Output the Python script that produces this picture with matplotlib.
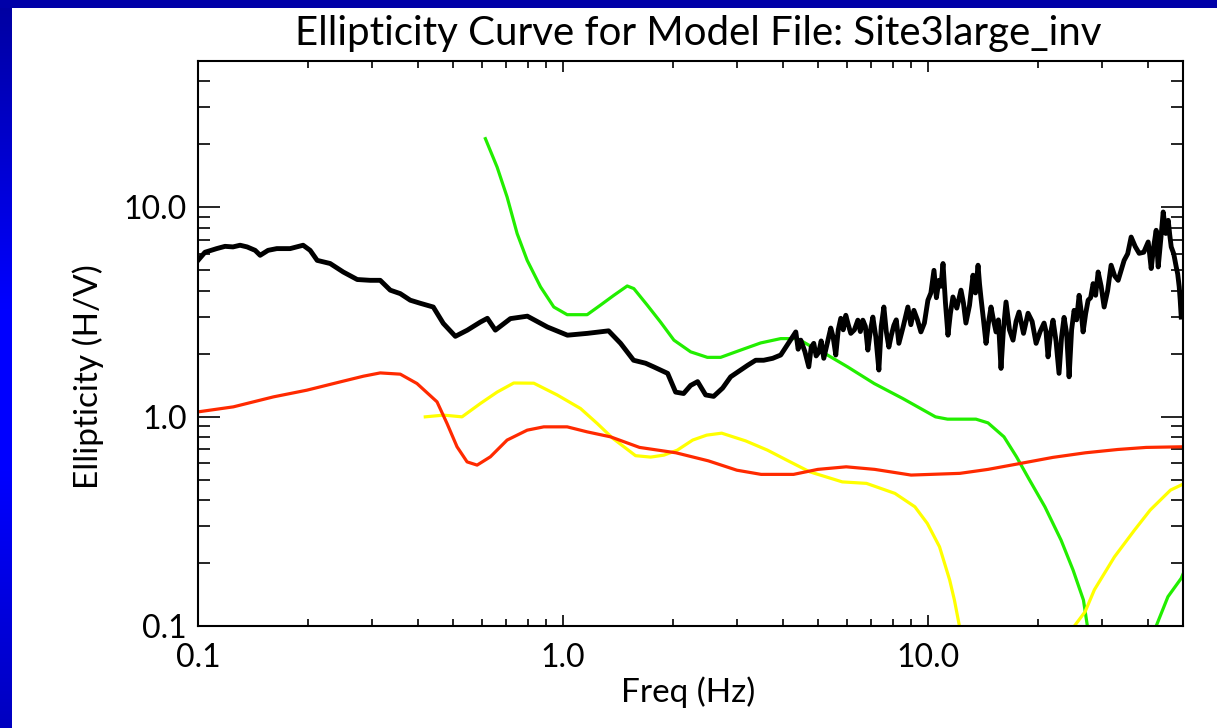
import numpy as np
import matplotlib
matplotlib.use("Agg")
import matplotlib.pyplot as plt
from matplotlib.ticker import FixedLocator, FixedFormatter, LogLocator, NullFormatter
from matplotlib.colors import LinearSegmentedColormap

# ---------------- data ----------------
title_text = "Ellipticity Curve for Model File: Site3large_inv"
x_label = "Freq (Hz)"
y_label = "Ellipticity (H/V)"
major_ticks = [0.1, 1.0, 10.0]
major_tick_labels = ["0.1", "1.0", "10.0"]

# observed H/V (black)
obs_freq = [0.100, 0.1045, 0.1125, 0.1186, 0.1247, 0.1304, 0.1363, 0.1434, 0.1480, 0.1556,
            0.1644, 0.1788, 0.1941, 0.2029, 0.2121, 0.2302, 0.2500, 0.2731, 0.2964, 0.3157,
            0.3364, 0.3583, 0.3816, 0.4065, 0.4412, 0.4700, 0.5072, 0.5471, 0.5938, 0.6207,
            0.6528, 0.7178, 0.7990, 0.9069, 1.0288, 1.1672, 1.3335, 1.4385, 1.5613, 1.6843,
            1.7716, 1.9357, 2.0357, 2.1411, 2.2377, 2.3388, 2.4599, 2.5873, 2.7387, 2.8806,
            3.0690, 3.2077, 3.3738, 3.5484, 3.7564, 3.9510,
            4.345, 4.41, 4.484, 4.60, 4.716, 4.79, 4.867, 4.94, 5.023, 5.10,
            5.184, 5.30, 5.418, 5.50, 5.592, 5.68, 5.771, 5.86, 5.957, 6.05,
            6.148, 6.29, 6.427, 6.53, 6.633, 6.74, 6.846, 6.95, 7.066, 7.20,
            7.339, 7.45, 7.574, 7.69, 7.816, 7.94, 8.067, 8.19, 8.326, 8.56,
            8.812, 8.98, 9.153, 9.36, 9.568, 9.78, 10.00, 10.19, 10.39, 10.55,
            10.72, 10.86, 11.00, 11.17, 11.35, 11.52, 11.71, 12.00, 12.32, 12.51,
            12.71, 13.00, 13.29, 13.50, 13.72, 13.85, 13.98, 14.20, 14.43, 14.65,
            14.89, 15.12, 15.37, 15.60, 15.86, 16.10, 16.37, 16.73, 17.11, 17.44,
            17.77, 18.28, 18.81, 19.30, 19.79, 20.30, 20.81, 21.07, 21.34, 21.68,
            22.02, 22.44, 22.87, 23.24, 23.61, 23.99, 24.37, 24.76, 25.15, 25.55,
            25.96, 26.29, 26.62, 27.05, 27.48, 27.92, 28.36, 28.81, 29.27, 29.83,
            30.40, 31.08, 31.77, 32.49, 33.21, 33.85, 34.49, 35.27, 36.05, 36.98,
            37.92, 39.03, 40.14, 40.50, 40.91, 41.56, 42.22, 42.49, 42.76, 43.45,
            44.13, 44.84, 45.55, 45.98, 46.42, 47.16, 47.91, 48.36, 48.82, 49.13, 49.44]
obs_ell = [5.58, 6.10, 6.35, 6.51, 6.47, 6.59, 6.47, 6.23, 5.90, 6.23,
           6.35, 6.35, 6.59, 6.23, 5.58, 5.39, 4.91, 4.52, 4.48, 4.48,
           4.02, 3.87, 3.60, 3.48, 3.34, 2.79, 2.42, 2.59, 2.83, 2.95,
           2.59, 2.94, 3.02, 2.68, 2.45, 2.50, 2.57, 2.24, 1.86, 1.80,
           1.73, 1.61, 1.31, 1.29, 1.41, 1.47, 1.27, 1.25, 1.37, 1.55,
           1.67, 1.76, 1.86, 1.86, 1.90, 1.97,
           2.54, 2.10, 2.32, 2.05, 1.73, 2.15, 2.24, 1.95, 2.03, 2.30,
           1.90, 2.25, 2.65, 2.40, 1.97, 2.60, 2.95, 2.60, 3.05, 2.75,
           2.50, 2.60, 2.89, 2.55, 2.89, 2.70, 2.08, 2.55, 2.99, 2.40,
           1.67, 2.70, 3.34, 2.55, 2.15, 2.45, 2.73, 2.90, 2.24, 2.70,
           3.34, 2.75, 3.22, 2.90, 2.54, 2.80, 3.60, 3.90, 5.00, 3.70,
           4.48, 4.20, 5.39, 3.50, 2.45, 3.10, 3.73, 3.30, 4.02, 3.50,
           2.80, 3.40, 4.74, 3.90, 5.29, 4.30, 3.68, 2.90, 2.24, 2.80,
           3.34, 2.90, 2.54, 2.90, 1.70, 2.60, 3.53, 2.60, 2.32, 2.85,
           3.16, 2.50, 3.12, 2.85, 2.24, 2.55, 2.80, 2.55, 1.93, 2.50,
           2.89, 2.30, 1.61, 2.40, 2.98, 2.50, 1.55, 2.60, 3.22, 2.90,
           3.80, 3.20, 2.54, 3.10, 3.60, 3.70, 4.32, 3.80, 4.91, 4.20,
           3.34, 4.00, 5.29, 4.70, 4.48, 5.00, 5.58, 6.00, 7.21, 6.50,
           6.03, 6.10, 6.83, 6.00, 5.10, 6.50, 7.77, 6.20, 5.19, 7.00,
           9.50, 7.50, 8.67, 7.40, 6.47, 6.00, 5.19, 4.80, 4.17, 3.60, 2.99]

# model curve (green), two branches
green_freq_a = [0.613, 0.660, 0.703, 0.749, 0.798, 0.868, 0.944, 1.027, 1.165, 1.267,
                1.379, 1.500, 1.564, 1.702, 1.851, 2.014, 2.238, 2.487, 2.704, 3.069,
                3.482, 3.951, 4.390, 4.775, 5.306, 6.022, 7.124, 8.540, 10.49, 11.32,
                13.54, 14.61, 16.16, 17.49, 18.88, 20.92, 23.17, 24.99, 26.68, 27.35, 27.65]
green_ell_a = [21.28, 15.57, 11.20, 7.49, 5.58, 4.17, 3.34, 3.07, 3.07, 3.41,
               3.80, 4.21, 4.09, 3.41, 2.83, 2.32, 2.04, 1.92, 1.92, 2.08,
               2.25, 2.36, 2.36, 2.17, 1.97, 1.73, 1.44, 1.22, 0.998, 0.973,
               0.973, 0.934, 0.801, 0.643, 0.507, 0.371, 0.257, 0.185, 0.133, 0.100, 0.085]
green_freq_b = [41.17, 42.22, 45.47, 49.44, 50.0]
green_ell_b = [0.085, 0.100, 0.138, 0.169, 0.177]

# model curve (yellow), two branches
yellow_freq_a = [0.4195, 0.471, 0.529, 0.594, 0.660, 0.733, 0.832, 0.964, 1.117, 1.241,
                 1.367, 1.581, 1.739, 1.891, 2.058, 2.267, 2.476, 2.722, 3.167, 3.633,
                 4.104, 4.746, 5.826, 6.788, 8.121, 9.212, 9.963, 10.76, 11.47, 11.82,
                 12.20, 12.32]
yellow_ell_a = [0.998, 1.017, 0.998, 1.156, 1.31, 1.448, 1.445, 1.27, 1.094, 0.928,
                0.790, 0.651, 0.641, 0.655, 0.692, 0.773, 0.816, 0.834, 0.766, 0.692,
                0.620, 0.545, 0.488, 0.480, 0.430, 0.371, 0.309, 0.239, 0.166, 0.133,
                0.100, 0.085]
yellow_freq_b = [24.91, 25.20, 26.96, 28.59, 32.45, 36.81, 40.65, 46.22, 50.0]
yellow_ell_b = [0.085, 0.100, 0.117, 0.149, 0.214, 0.287, 0.358, 0.446, 0.476]

# model curve (red)
red_freq = [0.100, 0.1250, 0.1609, 0.1987, 0.2453, 0.2841, 0.3157, 0.3583, 0.3981, 0.4518,
            0.4812, 0.5126, 0.5462, 0.5818, 0.6326, 0.703, 0.798, 0.886, 1.027, 1.165,
            1.350, 1.621, 2.040, 2.503, 2.995, 3.491, 4.284, 4.995, 5.971, 7.146,
            8.994, 12.23, 14.62, 17.94, 22.01, 27.01, 33.15, 39.63, 49.91]
red_ell = [1.054, 1.114, 1.243, 1.338, 1.466, 1.561, 1.618, 1.596, 1.44, 1.177,
           0.928, 0.718, 0.608, 0.587, 0.643, 0.773, 0.862, 0.894, 0.894, 0.846,
           0.801, 0.713, 0.672, 0.615, 0.555, 0.530, 0.530, 0.560, 0.576, 0.560,
           0.526, 0.536, 0.560, 0.598, 0.639, 0.672, 0.697, 0.713, 0.718]

# ---------------- figure ----------------
W, H = 1217, 728
plt.rcParams["font.family"] = ["Lato", "DejaVu Sans"]
plt.rcParams["font.weight"] = "normal"
plt.rcParams["text.color"] = "black"
plt.rcParams["xtick.color"] = "black"
plt.rcParams["ytick.color"] = "black"
fig = plt.figure(figsize=(W / 100, H / 100), dpi=100)
fig.patch.set_facecolor("white")

# blue frame (left gradient strip and top strip)
cmap = LinearSegmentedColormap.from_list(
    "edge", [(0.0, "#0000a0"), (0.42, "#0000ff"), (0.65, "#0000ff"), (1.0, "#0000c0")])
ax_left = fig.add_axes([0, 0, 12 / W, 1])
ax_left.imshow(np.linspace(0, 1, 256).reshape(-1, 1), cmap=cmap, aspect="auto")
ax_left.set_axis_off()
ax_top = fig.add_axes([0, 1 - 8 / H, 1, 8 / H])
ax_top.set_facecolor("#0000a8")
ax_top.set_xticks([])
ax_top.set_yticks([])
for s in ax_top.spines.values():
    s.set_visible(False)

ax = fig.add_axes([198 / W, 1 - 626 / H, 985 / W, 565 / H])
ax.set_xscale("log")
ax.set_yscale("log")

ax.plot(green_freq_a, green_ell_a, color="#22ee00", lw=2.3)
ax.plot(green_freq_b, green_ell_b, color="#22ee00", lw=2.3)
ax.plot(yellow_freq_a, yellow_ell_a, color="#ffff00", lw=2.3)
ax.plot(yellow_freq_b, yellow_ell_b, color="#ffff00", lw=2.3)
ax.plot(red_freq, red_ell, color="#ff2a00", lw=2.3)
ax.plot(obs_freq, obs_ell, color="black", lw=3.5)

ax.set_xlim(0.1, 50)
ax.set_ylim(0.1, 50)

for axis in (ax.xaxis, ax.yaxis):
    axis.set_major_locator(FixedLocator(major_ticks))
    axis.set_major_formatter(FixedFormatter(major_tick_labels))
    axis.set_minor_locator(LogLocator(base=10, subs=np.arange(2, 10), numticks=20))
    axis.set_minor_formatter(NullFormatter())

ax.tick_params(axis="y", which="major", direction="in", left=True, right=True,
               length=16, width=1.2, labelsize=23, pad=8)
ax.tick_params(axis="y", which="minor", direction="in", left=True, right=True,
               length=8.6, width=1.2)
ax.tick_params(axis="x", which="major", direction="in", bottom=True, top=True,
               length=8, width=1.2, labelsize=23, pad=12)
ax.tick_params(axis="x", which="minor", direction="in", bottom=True, top=True,
               length=5, width=1.2)
for s in ax.spines.values():
    s.set_linewidth(1.5)

fig.text(698 / W, 1 - 45 / H, title_text, ha="center", va="baseline", fontsize=29)
fig.text(688 / W, 1 - 702 / H, x_label, ha="center", va="baseline", fontsize=24)
fig.text(88 / W, 1 - 377 / H, y_label, ha="center", va="center", rotation=90, fontsize=24)

fig.savefig("out.png", dpi=100, facecolor="white")
